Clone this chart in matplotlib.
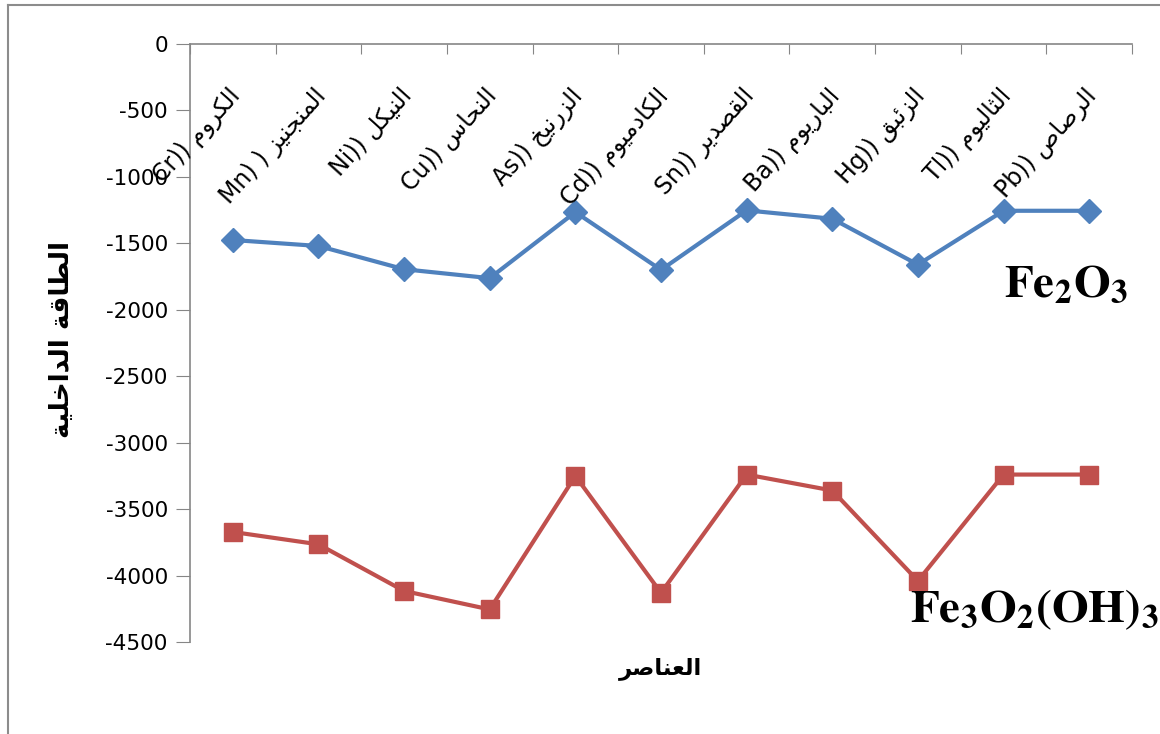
import matplotlib
matplotlib.use("Agg")
import matplotlib.pyplot as plt
import matplotlib.transforms as mtransforms
from matplotlib.lines import Line2D

plt.rcParams['font.family'] = ['DejaVu Sans']
plt.rcParams['mathtext.fontset'] = 'stix'

# element symbols and their arabic names
symbols = ["Cr", "Mn", "Ni", "Cu", "As", "Cd", "Sn", "Ba", "Hg", "Tl", "Pb"]
names_ar = ["الكروم", "المنجنيز", "النيكل", "النحاس", "الزرنيخ", "الكادميوم",
            "القصدير", "الباريوم", "الزئبق", "الثاليوم", "الرصاص"]

fe2o3 = [-1475, -1520, -1695, -1762, -1265, -1700, -1252, -1315, -1660, -1255, -1255]
fe3o2oh3 = [-3672, -3765, -4116, -4255, -3251, -4130, -3240, -3360, -4040, -3240, -3240]

y_ticks = [0, -500, -1000, -1500, -2000, -2500, -3000, -3500, -4000, -4500]

ylabel_ar = "الطاقة الداخلية"
xlabel_ar = "العناصر"

# matplotlib does no arabic shaping, so pick the presentation forms by hand
_letters = "ءآأؤإئابةتثجحخدذرزسشصضطظعغفقكلمنهوىي"
_nforms = [1, 2, 2, 2, 2, 4, 2, 4, 2, 4, 4, 4, 4, 4, 2, 2, 2, 2,
           4, 4, 4, 4, 4, 4, 4, 4, 4, 4, 4, 4, 4, 4, 4, 2, 2, 4]
_forms = {}
_base = 0xFE80
for ch, n in zip(_letters, _nforms):
    _forms[ch] = (_base, n)
    _base += n


def shape(s):
    out = []
    for i, ch in enumerate(s):
        if ch not in _forms:
            out.append(ch)
            continue
        base, n = _forms[ch]
        prev = s[i - 1] if i > 0 else ''
        nxt = s[i + 1] if i + 1 < len(s) else ''
        join_prev = prev in _forms and _forms[prev][1] == 4
        join_next = n == 4 and nxt in _forms
        if n == 1:
            k = 0
        elif join_prev and join_next:
            k = 3
        elif join_prev:
            k = 1
        elif join_next:
            k = 2
        else:
            k = 0
        out.append(chr(base + k))
    return ''.join(reversed(out))


fig = plt.figure(figsize=(11.6, 7.34), dpi=100)
ax = fig.add_axes([190 / 1160, 1 - 642 / 734, (1132 - 190) / 1160, 598 / 734])

x = list(range(len(symbols)))
ax.plot(x, fe2o3, color='#4F81BD', lw=3, marker='D', ms=12, zorder=3)
ax.plot(x, fe3o2oh3, color='#C0504D', lw=3, marker='s', ms=13.5, zorder=3)

ax.set_xlim(-0.5, len(symbols) - 0.5)
ax.set_ylim(-4500, 0)

for side in ['right', 'bottom']:
    ax.spines[side].set_visible(False)
for side in ['left', 'top']:
    ax.spines[side].set_color('#868686')
    ax.spines[side].set_linewidth(1.2)

ax.set_yticks(y_ticks)
ax.set_yticklabels([str(v) for v in y_ticks])
ax.tick_params(axis='y', direction='out', length=10, color='#868686', labelsize=15.5, pad=6)

ax.xaxis.tick_top()
ax.set_xticks([i - 0.5 for i in range(len(symbols) + 1)])
ax.set_xticklabels([])
ax.tick_params(axis='x', direction='in', length=7, color='#868686')

# rotated category labels hanging under the top axis
trans = mtransforms.blended_transform_factory(ax.transData, ax.transAxes)
for i, (sym, ar) in enumerate(zip(symbols, names_ar)):
    sep = ") ) " if sym == "Mn" else ")) "
    ax.text(i + 0.1, 0.912, sym + sep + shape(ar), transform=trans,
            rotation=48, rotation_mode='anchor', ha='right', va='baseline',
            fontsize=17)

ax.text(9.0, -1900, r'$\mathbf{Fe_2O_3}$', fontsize=34, ha='left', va='baseline')
ax.text(7.91, -4350, r'$\mathbf{Fe_3O_2(OH)_3}$', fontsize=34, ha='left', va='baseline')

fig.text(62 / 1160, 1 - 340 / 734, shape(ylabel_ar), rotation=90, fontsize=19,
         fontweight='bold', ha='center', va='center')
fig.text(660 / 1160, 1 - 668 / 734, shape(xlabel_ar), fontsize=16.5,
         fontweight='bold', ha='center', va='center')

# frame of the chart area
fig.add_artist(Line2D([8 / 1160, 8 / 1160], [0, 1 - 5 / 734], color='#8c8c8c', lw=1.5))
fig.add_artist(Line2D([8 / 1160, 1], [1 - 5 / 734, 1 - 5 / 734], color='#8c8c8c', lw=1.5))

fig.savefig("out.png", dpi=100)
